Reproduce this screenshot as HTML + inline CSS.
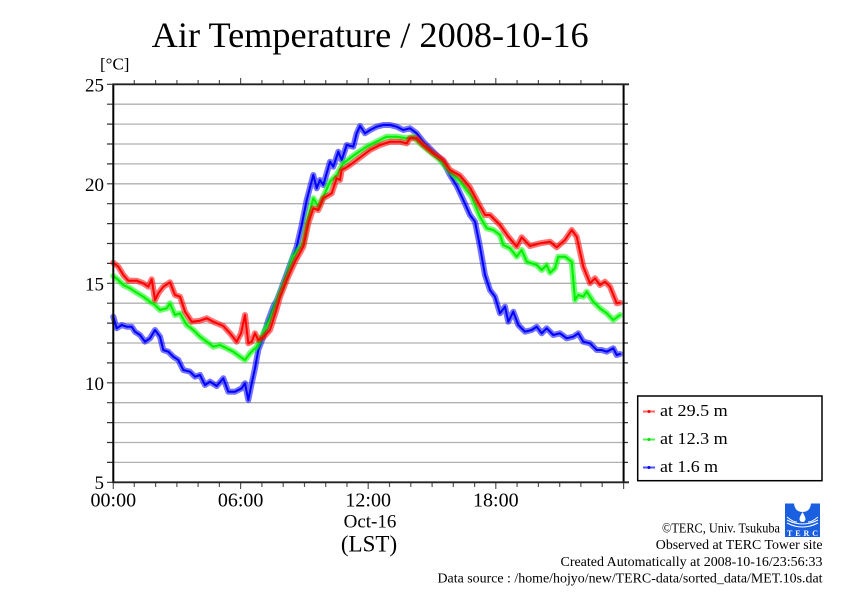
<!DOCTYPE html>
<html><head><meta charset="utf-8"><style>
html,body{margin:0;padding:0;background:#fff;}
svg{display:block;}
text{font-family:"Liberation Serif","DejaVu Serif",serif;fill:#000;}
</style></head><body>
<svg width="842" height="595" viewBox="0 0 842 595" xmlns="http://www.w3.org/2000/svg">
<rect width="842" height="595" fill="#fff"/>
<!-- title -->
<text x="151.7" y="47" font-size="36" textLength="437" lengthAdjust="spacingAndGlyphs">Air Temperature / 2008-10-16</text>
<text x="100" y="69.5" font-size="17">[°C]</text>

<!-- grid lines -->
<g stroke="#b0b0b0" stroke-width="1.3">
<line x1="113" y1="104.2" x2="624" y2="104.2"/>
<line x1="113" y1="124.1" x2="624" y2="124.1"/>
<line x1="113" y1="144.0" x2="624" y2="144.0"/>
<line x1="113" y1="163.9" x2="624" y2="163.9"/>
<line x1="113" y1="183.8" x2="624" y2="183.8"/>
<line x1="113" y1="203.7" x2="624" y2="203.7"/>
<line x1="113" y1="223.6" x2="624" y2="223.6"/>
<line x1="113" y1="243.5" x2="624" y2="243.5"/>
<line x1="113" y1="263.4" x2="624" y2="263.4"/>
<line x1="113" y1="283.3" x2="624" y2="283.3"/>
<line x1="113" y1="303.2" x2="624" y2="303.2"/>
<line x1="113" y1="323.1" x2="624" y2="323.1"/>
<line x1="113" y1="343.0" x2="624" y2="343.0"/>
<line x1="113" y1="362.9" x2="624" y2="362.9"/>
<line x1="113" y1="382.8" x2="624" y2="382.8"/>
<line x1="113" y1="402.7" x2="624" y2="402.7"/>
<line x1="113" y1="422.6" x2="624" y2="422.6"/>
<line x1="113" y1="442.5" x2="624" y2="442.5"/>
<line x1="113" y1="462.4" x2="624" y2="462.4"/>
</g>

<!-- y ticks left and right -->
<g stroke="#333" stroke-width="1.2">
<path d="M107 84.3H113M107 104.2H113M107 124.1H113M107 144H113M107 163.9H113M107 183.8H113M107 203.7H113M107 223.6H113M107 243.5H113M107 263.4H113M107 283.3H113M107 303.2H113M107 323.1H113M107 343H113M107 362.9H113M107 382.8H113M107 402.7H113M107 422.6H113M107 442.5H113M107 462.4H113M107 482.3H113"/>
<path d="M624 84.3H628M624 104.2H628M624 124.1H628M624 144H628M624 163.9H628M624 183.8H628M624 203.7H628M624 223.6H628M624 243.5H628M624 263.4H628M624 283.3H628M624 303.2H628M624 323.1H628M624 343H628M624 362.9H628M624 382.8H628M624 402.7H628M624 422.6H628M624 442.5H628M624 462.4H628M624 482.3H628"/>
</g>
<!-- x ticks top and bottom -->
<g stroke="#555" stroke-width="1.2">
<path d="M134.3 84V80M155.6 84V80M176.9 84V80M198.1 84V80M219.4 84V80M261.9 84V80M283.2 84V80M304.5 84V80M325.7 84V80M347 84V80M389.5 84V80M410.8 84V80M432.1 84V80M453.3 84V80M474.6 84V80M517.1 84V80M538.4 84V80M559.7 84V80M580.9 84V80M602.2 84V80"/>
<path d="M240.6 84V78M368.2 84V78M495.8 84V78"/>
<path d="M134.3 483V487M155.6 483V487M176.9 483V487M198.1 483V487M219.4 483V487M261.9 483V487M283.2 483V487M304.5 483V487M325.7 483V487M347 483V487M389.5 483V487M410.8 483V487M432.1 483V487M453.3 483V487M474.6 483V487M517.1 483V487M538.4 483V487M559.7 483V487M580.9 483V487M602.2 483V487"/>
<path d="M113.3 483V489M240.6 483V489M368.2 483V489M495.8 483V489M623.6 483V489"/>
</g>

<!-- series: blue -->
<g fill="none" stroke-linejoin="round" stroke-linecap="round">
<polyline stroke="#0000ff" stroke-opacity="0.55" stroke-width="6" points="113.3,316.7 116.7,328.3 121.7,325 126.7,326.7 131.7,326.7 135,331.7 140,335 145,341.7 150,338.3 155,330 160,336.7 163.3,350 168.3,351.7 173.3,356.7 178.3,360 183.3,370 190,371.7 195,376.7 200,375 205,385 210,381.7 216.7,386 223.3,378.3 228.3,391.7 235,391.7 241.7,388.3 245,383.3 248.3,400 251.7,383.3 255,368.3 258.3,350 263.3,336.7 268.3,320 273.3,306.7 277,300 283.3,283.3 290,265 296.7,246.7 301.7,225 306.7,200 313.3,175 316.7,188.3 320,180 323.3,185 330,161.7 333.3,166.7 338.3,151.7 341.7,160 346.7,145 353.3,146.7 356.7,133.3 360,126 365,133.3 370,130 376.7,126.7 383.3,125 390,125 396.7,126.7 403.3,130 410,128.3 416.7,133.3 423.3,141.7 433.3,151.7 443.3,161.7 450,175 456.7,186 463.3,200 470,215 475,221.7 480,246.7 485,275 490,290 495,296.7 500,313.3 505,306.7 508.3,321.7 513.3,311.7 518.3,325 525,331.7 531.7,330 536.7,326.7 541.7,333.3 546.7,328.3 553.3,335 560,333.3 566.7,338.3 573.3,336.7 578.3,333.3 583.3,341.7 590,343.3 596.7,350 601.7,350 606.7,351.7 613.3,348.3 616.7,355 620,354"/>
<polyline stroke="#0000ff" stroke-width="2" points="113.3,316.7 116.7,328.3 121.7,325 126.7,326.7 131.7,326.7 135,331.7 140,335 145,341.7 150,338.3 155,330 160,336.7 163.3,350 168.3,351.7 173.3,356.7 178.3,360 183.3,370 190,371.7 195,376.7 200,375 205,385 210,381.7 216.7,386 223.3,378.3 228.3,391.7 235,391.7 241.7,388.3 245,383.3 248.3,400 251.7,383.3 255,368.3 258.3,350 263.3,336.7 268.3,320 273.3,306.7 277,300 283.3,283.3 290,265 296.7,246.7 301.7,225 306.7,200 313.3,175 316.7,188.3 320,180 323.3,185 330,161.7 333.3,166.7 338.3,151.7 341.7,160 346.7,145 353.3,146.7 356.7,133.3 360,126 365,133.3 370,130 376.7,126.7 383.3,125 390,125 396.7,126.7 403.3,130 410,128.3 416.7,133.3 423.3,141.7 433.3,151.7 443.3,161.7 450,175 456.7,186 463.3,200 470,215 475,221.7 480,246.7 485,275 490,290 495,296.7 500,313.3 505,306.7 508.3,321.7 513.3,311.7 518.3,325 525,331.7 531.7,330 536.7,326.7 541.7,333.3 546.7,328.3 553.3,335 560,333.3 566.7,338.3 573.3,336.7 578.3,333.3 583.3,341.7 590,343.3 596.7,350 601.7,350 606.7,351.7 613.3,348.3 616.7,355 620,354"/>

<!-- green -->
<polyline stroke="#00ff00" stroke-opacity="0.55" stroke-width="6" points="113.3,276 118.3,280 123.3,285 130,288.3 136.7,292.7 143.3,296.7 150,301.7 155,305 160,310 166.7,308.3 170,303.3 175,315 180,313.3 186.7,325 193.3,330 200,336.7 206.7,341.7 213.3,346.7 220,345 226.7,348.3 233.3,351.7 240,356.7 245,360 250,353.3 256.7,346.7 263.3,333.3 270,320 275,306.7 280,293.3 286.7,276.7 293.3,256.7 303.3,243.3 308.3,216.7 313.3,198.3 318.3,206.7 323.3,196.7 330,181.7 336.7,175 343.3,163.3 350,158.3 356.7,153.3 366.7,146.7 376.7,141.7 386.7,136.7 396.7,136.7 406.7,138.3 413.3,136.7 420,143.3 430,151.7 440,160 450,171.7 460,181 471.7,196.7 480,216.7 486.7,228.3 493.3,230 500,235 503.3,245 510,248.3 516.7,256.7 521.7,250 526.7,261.7 536.7,265 541.7,270 546.7,265 550,272.7 555,268.3 558.3,256.7 565,256.7 571.7,261.7 575,300 578.3,295 583.3,296.7 586.7,291.7 593.3,301.7 600,308.3 606.7,313.3 613.3,320 620,315"/>
<polyline stroke="#00ee00" stroke-width="2" points="113.3,276 118.3,280 123.3,285 130,288.3 136.7,292.7 143.3,296.7 150,301.7 155,305 160,310 166.7,308.3 170,303.3 175,315 180,313.3 186.7,325 193.3,330 200,336.7 206.7,341.7 213.3,346.7 220,345 226.7,348.3 233.3,351.7 240,356.7 245,360 250,353.3 256.7,346.7 263.3,333.3 270,320 275,306.7 280,293.3 286.7,276.7 293.3,256.7 303.3,243.3 308.3,216.7 313.3,198.3 318.3,206.7 323.3,196.7 330,181.7 336.7,175 343.3,163.3 350,158.3 356.7,153.3 366.7,146.7 376.7,141.7 386.7,136.7 396.7,136.7 406.7,138.3 413.3,136.7 420,143.3 430,151.7 440,160 450,171.7 460,181 471.7,196.7 480,216.7 486.7,228.3 493.3,230 500,235 503.3,245 510,248.3 516.7,256.7 521.7,250 526.7,261.7 536.7,265 541.7,270 546.7,265 550,272.7 555,268.3 558.3,256.7 565,256.7 571.7,261.7 575,300 578.3,295 583.3,296.7 586.7,291.7 593.3,301.7 600,308.3 606.7,313.3 613.3,320 620,315"/>

<!-- red -->
<polyline stroke="#ff0000" stroke-opacity="0.55" stroke-width="6" points="113.3,262.7 118.3,266.7 123.3,275 128.3,280.7 136.7,280.7 143.3,283.3 148.3,286.7 151.7,279.3 155,300 158.3,293.3 163.3,286.7 170,282.3 175,295 180,296.7 185,311.7 191.7,321.7 200,320.7 206.7,318.3 213.3,321.7 223.3,326 230,333.3 236.7,341.7 241,333.3 245,315 248.3,343.3 251.7,341.7 255,333.3 258.3,340 263.3,337.3 270,330 276.7,309 280,297 286.7,280 295,261.7 303.3,246.7 308.3,223.3 313.3,208.3 318.3,210 323.3,198.3 331.7,193.3 336.7,178.3 340,180 341.7,170 345,168.3 350,165 356.7,160 363.3,155 370,150 380,145 390,141.7 400,141.7 406.7,143.3 410,138.3 416.7,138.3 423.3,145 433.3,153.3 443.3,160 450,170 460,175.5 470,187.5 476.7,200 485,215 490,215 500,225 508.3,236.7 516.7,246.7 521.7,237.3 530,246 540,243.3 550,241.7 556.7,247.3 565,240 571.7,230 576.7,236.7 583.3,266.7 590,283.3 595,278.3 600,285 605,281.7 610,286.7 616.7,303.3 620,302.7"/>
<polyline stroke="#ff0000" stroke-width="2" points="113.3,262.7 118.3,266.7 123.3,275 128.3,280.7 136.7,280.7 143.3,283.3 148.3,286.7 151.7,279.3 155,300 158.3,293.3 163.3,286.7 170,282.3 175,295 180,296.7 185,311.7 191.7,321.7 200,320.7 206.7,318.3 213.3,321.7 223.3,326 230,333.3 236.7,341.7 241,333.3 245,315 248.3,343.3 251.7,341.7 255,333.3 258.3,340 263.3,337.3 270,330 276.7,309 280,297 286.7,280 295,261.7 303.3,246.7 308.3,223.3 313.3,208.3 318.3,210 323.3,198.3 331.7,193.3 336.7,178.3 340,180 341.7,170 345,168.3 350,165 356.7,160 363.3,155 370,150 380,145 390,141.7 400,141.7 406.7,143.3 410,138.3 416.7,138.3 423.3,145 433.3,153.3 443.3,160 450,170 460,175.5 470,187.5 476.7,200 485,215 490,215 500,225 508.3,236.7 516.7,246.7 521.7,237.3 530,246 540,243.3 550,241.7 556.7,247.3 565,240 571.7,230 576.7,236.7 583.3,266.7 590,283.3 595,278.3 600,285 605,281.7 610,286.7 616.7,303.3 620,302.7"/>
</g>

<!-- axes frame -->
<g stroke="#000" stroke-width="2" fill="none">
<line x1="113.3" y1="83.5" x2="113.3" y2="483"/>
<line x1="623.6" y1="83.5" x2="623.6" y2="483"/>
</g>
<g stroke="#222" stroke-width="1.8">
<line x1="112.5" y1="84.3" x2="629" y2="84.3"/>
<line x1="112.5" y1="482.3" x2="629" y2="482.3"/>
</g>

<!-- y labels -->
<g font-size="19" text-anchor="end">
<text x="104" y="91.5">25</text>
<text x="104" y="190.8">20</text>
<text x="104" y="290.3">15</text>
<text x="104" y="389.8">10</text>
<text x="104" y="489">5</text>
</g>
<!-- x labels -->
<g font-size="20" text-anchor="middle">
<text x="113.3" y="506.5">00:00</text>
<text x="240.6" y="506.5">06:00</text>
<text x="368.2" y="506.5">12:00</text>
<text x="495.8" y="506.5">18:00</text>
</g>
<text x="370" y="527.5" font-size="19" text-anchor="middle">Oct-16</text>
<text x="369" y="551.5" font-size="23" text-anchor="middle">(LST)</text>

<!-- legend -->
<rect x="637.7" y="396" width="184.3" height="84.7" fill="#fff" stroke="#000" stroke-width="1.5"/>
<g stroke-width="2">
<line x1="643" y1="411.5" x2="655" y2="411.5" stroke="#ff6060"/>
<line x1="643" y1="439.5" x2="655" y2="439.5" stroke="#50f050"/>
<line x1="643" y1="467.5" x2="655" y2="467.5" stroke="#5050ff"/>
</g>
<circle cx="649" cy="411.5" r="1.5" fill="#ff0000"/>
<circle cx="649" cy="439.5" r="1.5" fill="#00dd00"/>
<circle cx="649" cy="467.5" r="1.5" fill="#0000ff"/>
<g font-size="17">
<text x="660" y="416" textLength="67.7" lengthAdjust="spacingAndGlyphs">at 29.5 m</text>
<text x="660" y="444" textLength="67.7" lengthAdjust="spacingAndGlyphs">at 12.3 m</text>
<text x="660" y="472" textLength="58" lengthAdjust="spacingAndGlyphs">at 1.6 m</text>
</g>

<!-- logo -->
<g>
<rect x="785" y="503.5" width="35" height="33.5" fill="#1a5fe0"/>
<path d="M794 503.5 Q795 512 802.5 512 Q810 512 811 503.5 Z" fill="#fff"/>
<path d="M802.5 512 Q799.5 517 799.5 519 A3 3 0 0 0 805.5 519 Q805.5 517 802.5 512 Z" fill="#fff"/>
<path d="M787 520 Q802.5 528 818 520" stroke="#fff" stroke-width="1" fill="none"/>
<path d="M787 523 Q802.5 531 818 523" stroke="#fff" stroke-width="1" fill="none"/>
<path d="M787 517 Q793 522 797 522" stroke="#fff" stroke-width="1" fill="none"/>
<path d="M818 517 Q812 522 808 522" stroke="#fff" stroke-width="1" fill="none"/>
<text x="802.5" y="536" font-family="Liberation Sans, sans-serif" font-size="8" font-weight="bold" text-anchor="middle" fill="#fff" style="fill:#fff" textLength="31" lengthAdjust="spacing">TERC</text>
</g>

<!-- credits -->
<g font-size="13.5" text-anchor="end">
<text x="780" y="532.5" textLength="118" lengthAdjust="spacingAndGlyphs">©TERC, Univ. Tsukuba</text>
<text x="822.5" y="549" textLength="166.7" lengthAdjust="spacingAndGlyphs">Observed at TERC Tower site</text>
<text x="822.5" y="566" textLength="262" lengthAdjust="spacingAndGlyphs">Created Automatically at 2008-10-16/23:56:33</text>
<text x="822.5" y="582.7" textLength="385" lengthAdjust="spacingAndGlyphs">Data source : /home/hojyo/new/TERC-data/sorted_data/MET.10s.dat</text>
</g>
</svg>
</body></html>
